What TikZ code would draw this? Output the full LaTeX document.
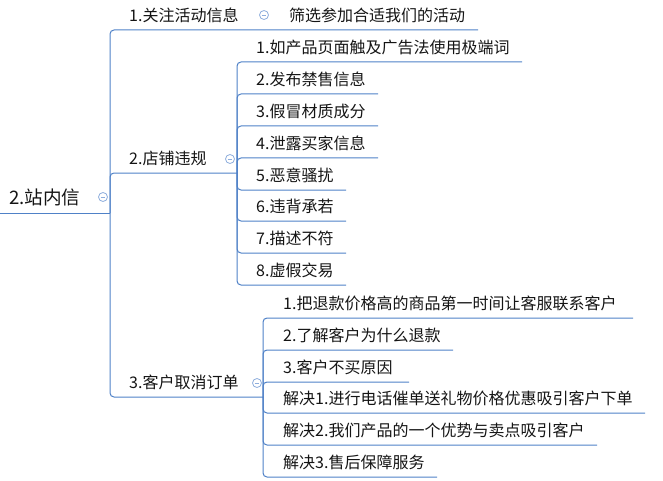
\documentclass[tikz,border=0pt]{standalone}
\usepackage{fontspec}
\newfontfamily\cjk{Noto Sans CJK SC}
\definecolor{lineblue}{HTML}{4F81C7}
\definecolor{togblue}{HTML}{8EAEDD}
\definecolor{txt}{HTML}{141414}
\begin{document}
\begin{tikzpicture}[x=1pt,y=-1pt,
  ln/.style={draw=lineblue, line width=1pt, rounded corners=4pt},
  topic/.style={anchor=west, inner sep=0pt, text=txt, font=\cjk\fontsize{16}{17}\selectfont},
  roottopic/.style={topic, font=\cjk\fontsize{18.6}{19}\selectfont},
  tog/.style={circle, draw=togblue, fill=white, line width=0.8pt, minimum size=9pt, inner sep=0pt,
    path picture={\draw[togblue, line width=0.8pt] ([xshift=-2.4pt]path picture bounding box.center) -- ([xshift=2.4pt]path picture bounding box.center);}}
]
\useasboundingbox (0,0) rectangle (663,481);

% underline end points
\coordinate (rootL) at (0,213);
\coordinate (rootR) at (110,213);
\coordinate (b1R) at (478,30);
\coordinate (b2R) at (237,173);
\coordinate (b3R) at (263,397);
\coordinate (c21R) at (522,62);
\coordinate (c22R) at (378,94);
\coordinate (c23R) at (378,126);
\coordinate (c24R) at (378,158);
\coordinate (c25R) at (346,190);
\coordinate (c26R) at (346,221);
\coordinate (c27R) at (346,253);
\coordinate (c28R) at (346,285);
\coordinate (c31R) at (633,318);
\coordinate (c32R) at (453,350);
\coordinate (c33R) at (409,382);
\coordinate (c34R) at (645,413);
\coordinate (c35R) at (597,445);
\coordinate (c36R) at (437,477);

% connectors / underlines
\draw[ln] (rootL) -- (rootR);
\foreach \c in {b1R,b2R,b3R} \draw[ln] (rootR) |- (\c);
\foreach \c in {c21R,c22R,c23R,c24R,c25R,c26R,c27R,c28R} \draw[ln] (b2R) |- (\c);
\foreach \c in {c31R,c32R,c33R,c34R,c35R,c36R} \draw[ln] (b3R) |- (\c);

% topics
\node[roottopic] (root) at (9,197) {2.站内信};
\node[topic] (b1) at (129,15) {1.关注活动信息};
\node[topic] (b1c) at (289,15) {筛选参加合适我们的活动};
\node[topic] (b2) at (129,158) {2.店铺违规};
\node[topic] (b3) at (129,382) {3.客户取消订单};

\node[topic] (c21) at (256,47) {1.如产品页面触及广告法使用极端词};
\node[topic] (c22) at (256,79) {2.发布禁售信息};
\node[topic] (c23) at (256,111) {3.假冒材质成分};
\node[topic] (c24) at (256,143) {4.泄露买家信息};
\node[topic] (c25) at (256,175) {5.恶意骚扰};
\node[topic] (c26) at (256,206) {6.违背承若};
\node[topic] (c27) at (256,238) {7.描述不符};
\node[topic] (c28) at (256,270) {8.虚假交易};

\node[topic] (c31) at (283,303) {1.把退款价格高的商品第一时间让客服联系客户};
\node[topic] (c32) at (283,335) {2.了解客户为什么退款};
\node[topic] (c33) at (283,367) {3.客户不买原因};
\node[topic] (c34) at (283,398) {解决1.进行电话催单送礼物价格优惠吸引客户下单};
\node[topic] (c35) at (283,430) {解决2.我们产品的一个优势与卖点吸引客户};
\node[topic] (c36) at (283,462) {解决3.售后保障服务};

% collapse toggles
\node[tog] (t0) at (103,197) {};
\node[tog] (t1) at (264,15) {};
\node[tog] (t2) at (230,159) {};
\node[tog] (t3) at (257,383) {};
\end{tikzpicture}
\end{document}
